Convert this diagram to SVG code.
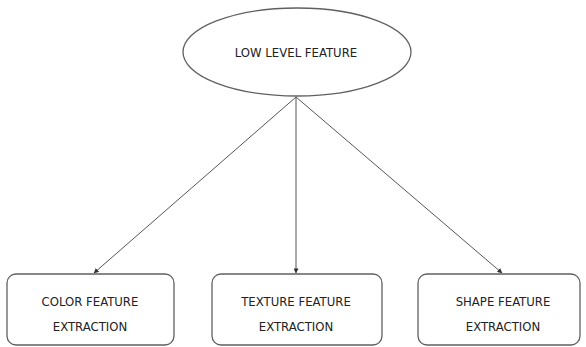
<svg xmlns="http://www.w3.org/2000/svg" width="586" height="347" viewBox="0 0 586 347">
<style>
.shape{fill:#fff;stroke:#606060;stroke-width:1.3}
.lbl{font-family:"Liberation Sans Narrow","DejaVu Sans Condensed","Liberation Sans",sans-serif;font-size:13px;fill:#222;text-anchor:middle}
.conn{stroke:#555;stroke-width:1;fill:none;marker-end:url(#arr)}
</style>
<defs>
<marker id="arr" viewBox="0 0 6 6" refX="5.5" refY="3" markerWidth="5" markerHeight="5" orient="auto" markerUnits="userSpaceOnUse">
<path d="M0,0 L6,3 L0,6 z" fill="#333"/>
</marker>
</defs>
<rect width="586" height="347" fill="#fff"/>
<g id="connectors">
<line class="conn" x1="296" y1="97" x2="94" y2="273"/>
<line class="conn" x1="296" y1="97" x2="296" y2="273"/>
<line class="conn" x1="296" y1="97" x2="502" y2="273"/>
</g>
<g id="low-level-feature">
<ellipse class="shape" cx="297" cy="52" rx="114" ry="44"/>
<text class="lbl" x="296" y="57">LOW LEVEL FEATURE</text>
</g>
<g id="color-feature">
<rect class="shape" x="7" y="274" width="167" height="71" rx="9"/>
<text class="lbl" x="90" y="306">COLOR FEATURE</text>
<text class="lbl" x="90" y="331">EXTRACTION</text>
</g>
<g id="texture-feature">
<rect class="shape" x="212" y="274" width="170" height="71" rx="9"/>
<text class="lbl" x="296" y="306">TEXTURE FEATURE</text>
<text class="lbl" x="296" y="331">EXTRACTION</text>
</g>
<g id="shape-feature">
<rect class="shape" x="418" y="274" width="162" height="71" rx="9"/>
<text class="lbl" x="503" y="306">SHAPE FEATURE</text>
<text class="lbl" x="503" y="331">EXTRACTION</text>
</g>
</svg>
